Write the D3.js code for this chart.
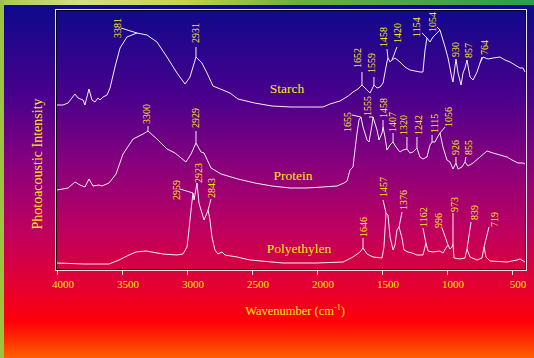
<!DOCTYPE html>
<html>
<head>
<meta charset="utf-8">
<script src="https://cdn.jsdelivr.net/npm/d3@7"></script>
<style>
  body { margin: 0; background: #ff0000; }
  svg { display: block; }
</style>
</head>
<body>
<div id="chart"></div>
<script>
// Spectra: [wavenumber (cm-1), photoacoustic intensity (a.u., stacked offset)]
const starch = [
  [4000,165],[3954,165],[3915,167],[3862,176],[3838,172],[3800,170],[3785,165],[3754,181],
  [3731,170],[3708,168],[3685,172],[3669,170],[3646,173],[3615,175],[3592,182],[3554,203],
  [3515,222],[3462,233],[3385,237],[3308,235],[3231,228],[3154,213],[3077,197],[3015,186],
  [2977,193],[2931,213],[2885,207],[2846,197],[2800,184],[2669,177],[2608,171],[2480,167],
  [2346,164],[2200,163],[2085,163],[1954,163],[1900,166],[1823,169],[1760,174],[1723,178],
  [1685,181],[1654,185],[1615,180],[1592,177],[1562,185],[1538,182],[1515,183],[1492,187],
  [1462,208],[1454,212],[1438,208],[1423,210],[1400,212],[1362,208],[1323,203],[1285,200],
  [1246,199],[1208,198],[1185,198],[1169,220],[1154,232],[1131,228],[1108,233],[1077,237],
  [1054,240],[1038,233],[1015,223],[992,212],[962,192],[954,188],[931,211],[915,197],
  [892,185],[877,197],[862,202],[846,210],[823,193],[800,190],[769,198],[746,207],
  [723,213],[685,211],[646,212],[592,213],[554,210],[515,208],[477,205],[438,202],
  [415,202],[400,198]
];

const protein = [
  [4000,80],[3915,82],[3862,88],[3823,85],[3785,83],[3754,91],[3723,84],[3677,85],
  [3654,84],[3600,87],[3546,96],[3492,116],[3415,131],[3338,136],[3300,139],[3231,131],
  [3154,121],[3092,117],[3008,108],[2969,116],[2931,127],[2892,118],[2869,117],[2815,102],
  [2738,96],[2608,91],[2477,87],[2346,84],[2208,82],[2085,82],[1954,83],[1846,84],
  [1792,87],[1769,89],[1746,100],[1723,103],[1708,120],[1692,137],[1677,150],[1662,153],
  [1646,143],[1615,130],[1600,128],[1577,145],[1569,153],[1538,140],[1523,130],[1500,137],
  [1492,143],[1477,133],[1462,120],[1438,125],[1415,128],[1392,123],[1362,118],[1338,120],
  [1308,121],[1285,117],[1262,118],[1231,122],[1208,113],[1185,111],[1154,113],[1131,125],
  [1115,128],[1092,128],[1077,132],[1054,137],[1031,123],[1000,110],[977,108],[954,101],
  [931,107],[915,101],[885,103],[862,108],[838,104],[800,107],[746,113],[692,119],
  [646,117],[592,115],[538,113],[500,110],[454,107],[415,107],[400,106]
];

const polyethylen = [
  [4000,7],[3785,6],[3600,6],[3523,10],[3446,15],[3392,18],[3315,19],[3185,16],
  [3077,15],[3031,16],[3000,23],[2985,40],[2969,60],[2954,77],[2946,70],[2923,87],
  [2908,67],[2885,57],[2869,50],[2846,57],[2838,60],[2823,50],[2808,33],[2785,20],
  [2762,16],[2731,18],[2708,15],[2615,13],[2515,10],[2262,7],[2000,7],[1800,8],
  [1723,13],[1669,18],[1646,22],[1615,16],[1569,13],[1500,12],[1485,23],[1469,57],
  [1454,55],[1438,33],[1415,20],[1400,25],[1385,40],[1369,43],[1346,32],[1331,20],
  [1300,18],[1269,17],[1231,15],[1185,15],[1162,27],[1146,19],[1108,18],[1054,19],
  [1031,17],[1008,22],[992,25],[977,21],[962,23],[954,26],[946,12],[900,11],
  [862,12],[846,21],[823,13],[769,10],[731,12],[715,23],[700,13],[669,9],
  [538,8],[462,10],[438,11],[400,8]
];

const xTicks = [4000, 3500, 3000, 2500, 2000, 1500, 1000, 500];

// Peak assignments (labels) per spectrum
const starchPeaks = [3381, 2931, 1652, 1559, 1458, 1420, 1154, 1054, 930, 857, 764];
const proteinPeaks = [3300, 2929, 1655, 1555, 1458, 1407, 1320, 1242, 1115, 1056, 926, 855];
const polyPeaks = [2959, 2923, 2843, 1646, 1457, 1376, 1162, 996, 973, 839, 719];

// Label placement in data units: [label w, label bottom v, leader start w, leader start v, leader end w]
const starchLabelPos = [
  [3538,232,3508,242,3385],[2931,227,2931,223,2931],[1685,202,1654,198,1654],
  [1577,197,1562,193,1562],[1492,223,1462,221,1454],[1377,227,1385,223,1423],
  [1238,233,1192,237,1154],[1108,238,1077,243,1054],[931,213,931,211,931],
  [831,212,846,210,846],[715,215,731,213,746]
];
const proteinLabelPos = [
  [3308,146,3300,144,3300],[2931,142,2931,139,2931],[1762,138,1731,155,1662],
  [1608,154,1600,153,1569],[1492,152,1492,150,1492],[1423,138,1415,137,1415],
  [1331,135,1308,133,1308],[1223,135,1231,133,1231],[1100,137,1115,135,1115],
  [992,143,1015,143,1054],[938,115,931,113,931],[831,115,854,113,862]
];
const polyLabelPos = [
  [3077,70,3054,81,2954],[2915,87,2923,87,2923],[2808,72,2815,71,2838],
  [1646,33,1646,32,1646],[1492,73,1492,70,1469],[1338,60,1346,58,1369],
  [1177,43,1185,42,1162],[1069,42,1038,42,992],[946,58,954,57,954],
  [792,50,815,48,846],[638,43,677,43,715]
];

const seriesNames = ['Starch', 'Protein', 'Polyethylen'];
const seriesNamePos = [[2231,182],[2185,95],[2138,22]];

const width = 534, height = 358;
const yellow = '#ffe81a';
const serif = '"Liberation Serif", "Times New Roman", serif';

const svg = d3.select('#chart').append('svg')
  .attr('width', width)
  .attr('height', height);

const defs = svg.append('defs');

// background gradients
const bg = defs.append('linearGradient').attr('id', 'bg')
  .attr('x1', 0).attr('y1', 0).attr('x2', 0).attr('y2', 1);
[[0,'#0a0a8c'],[0.28,'#4c008c'],[0.45,'#86007e'],[0.65,'#c0005e'],
 [0.8,'#e40030'],[0.9,'#ff0008'],[1,'#ff6000']].forEach(s =>
  bg.append('stop').attr('offset', s[0]).attr('stop-color', s[1]));

const topBand = defs.append('linearGradient').attr('id', 'topband')
  .attr('x1', 0).attr('y1', 0).attr('x2', 1).attr('y2', 0);
[[0,'#a8c850'],[0.15,'#d4de86'],[0.35,'#c4d24c'],[0.55,'#6cb040'],[1,'#2e9c48']].forEach(s =>
  topBand.append('stop').attr('offset', s[0]).attr('stop-color', s[1]));

svg.append('rect').attr('width', width).attr('height', height).attr('fill', 'url(#bg)');
svg.append('rect').attr('width', width).attr('height', 5).attr('fill', 'url(#topband)');
svg.append('rect').attr('width', 4).attr('height', height).attr('fill', '#9cc43f');

// scales
const x = d3.scaleLinear().domain([4000, 400]).range([57, 525]);
const y = d3.scaleLinear().domain([0, 260]).range([270, 10]);

// frame
svg.append('rect')
  .attr('x', 55.5).attr('y', 9.5).attr('width', 471).attr('height', 261)
  .attr('fill', 'none').attr('stroke', '#e6e6e6');
svg.append('rect')
  .attr('x', 56.5).attr('y', 10.5).attr('width', 469).attr('height', 259)
  .attr('fill', 'none').attr('stroke', '#000');

// x axis ticks and labels
const axis = svg.append('g').attr('class', 'x-axis');
axis.selectAll('line')
  .data(xTicks)
  .enter()
  .append('line')
  .attr('x1', d => Math.round(x(d)) + 0.5)
  .attr('x2', d => Math.round(x(d)) + 0.5)
  .attr('y1', 271)
  .attr('y2', 275)
  .attr('stroke', '#e6e6e6');
axis.selectAll('text')
  .data(xTicks)
  .enter()
  .append('text')
  .attr('x', d => x(d) + 6)
  .attr('y', 288)
  .attr('text-anchor', 'middle')
  .attr('font-family', serif)
  .attr('font-size', 11)
  .attr('fill', yellow)
  .text(d => d);

// axis titles
const xTitle = svg.append('text')
  .attr('x', 295).attr('y', 315)
  .attr('text-anchor', 'middle')
  .attr('font-family', serif)
  .attr('font-size', 12.5)
  .attr('fill', yellow);
xTitle.append('tspan').text('Wavenumber (cm');
xTitle.append('tspan').attr('dy', -5).attr('font-size', 8).text('-1');
xTitle.append('tspan').attr('dy', 5).text(')');

svg.append('text')
  .attr('transform', 'translate(42,164) rotate(-90)')
  .attr('text-anchor', 'middle')
  .attr('font-family', serif)
  .attr('font-size', 14)
  .attr('fill', yellow)
  .text('Photoacoustic Intensity');

// spectra
const line = d3.line().x(d => x(d[0])).y(d => y(d[1]));
const allSeries = [starch, protein, polyethylen];

svg.append('g').selectAll('path')
  .data(allSeries)
  .enter()
  .append('path')
  .attr('d', line)
  .attr('fill', 'none')
  .attr('stroke', '#f6f0f6')
  .attr('stroke-width', 1);

// value of a spectrum at wavenumber w (linear interpolation)
function valueAt(series, w) {
  for (let i = 0; i < series.length - 1; i++) {
    const a = series[i], b = series[i + 1];
    if (w <= a[0] && w >= b[0]) {
      const t = (a[0] - w) / (a[0] - b[0]);
      return a[1] + t * (b[1] - a[1]);
    }
  }
  return series[series.length - 1][1];
}

function drawPeaks(series, peaks, layout) {
  const g = svg.append('g');
  peaks.forEach((p, i) => {
    const [lw, lv, sw, sv, ew] = layout[i];
    g.append('line')
      .attr('x1', x(sw)).attr('y1', y(sv))
      .attr('x2', x(ew)).attr('y2', y(valueAt(series, ew)))
      .attr('stroke', '#f6f0f6')
      .attr('stroke-width', 1);
    g.append('text')
      .attr('transform', `translate(${x(lw)},${y(lv)}) rotate(-90)`)
      .attr('dy', '0.35em')
      .attr('font-family', serif)
      .attr('font-size', 10)
      .attr('fill', yellow)
      .text(p);
  });
}

drawPeaks(starch, starchPeaks, starchLabelPos);
drawPeaks(protein, proteinPeaks, proteinLabelPos);
drawPeaks(polyethylen, polyPeaks, polyLabelPos);

// series names
svg.append('g').selectAll('text')
  .data(seriesNames)
  .enter()
  .append('text')
  .attr('x', (d, i) => x(seriesNamePos[i][0]))
  .attr('y', (d, i) => y(seriesNamePos[i][1]))
  .attr('dy', '0.35em')
  .attr('text-anchor', 'middle')
  .attr('font-family', serif)
  .attr('font-size', 13.5)
  .attr('fill', yellow)
  .text(d => d);
</script>
</body>
</html>
